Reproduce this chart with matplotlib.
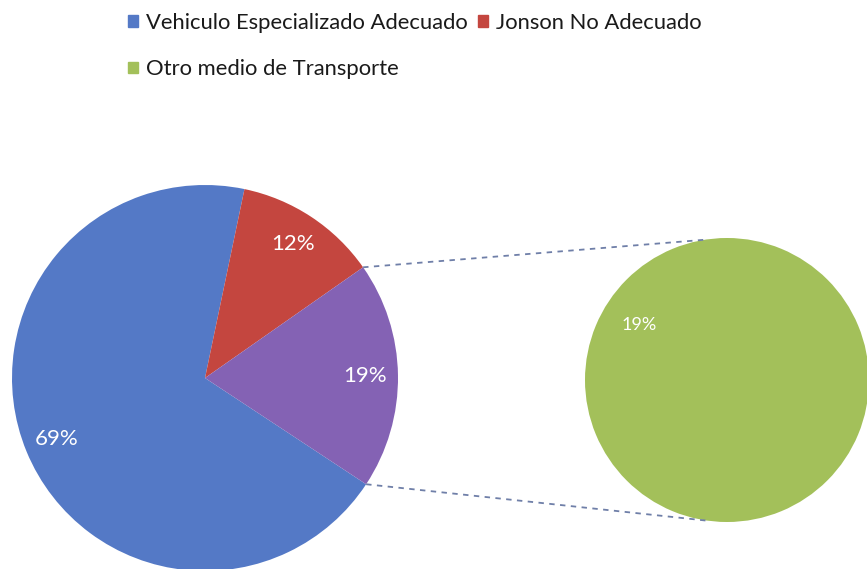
import matplotlib.pyplot as plt
import matplotlib.patches as mpatches
import numpy as np

plt.rcParams['font.family'] = ['Lato', 'DejaVu Sans']

# main pie: two categories plus the "other" wedge that is broken out
main_labels = ["Vehiculo Especializado Adecuado", "Jonson No Adecuado", "Otro"]
main_values = [69, 12, 19]
main_colors = ["#5479C6", "#C4463F", "#8462B4"]

# secondary pie
sub_labels = ["Otro medio de Transporte"]
sub_values = [19]
sub_colors = ["#A3C05A"]

fig = plt.figure(figsize=(8.67, 5.69), dpi=100)
ax = fig.add_axes([0, 0, 1, 1])

c1, r1 = (205, 191), 193
c2, r2 = (727, 189), 142

# blue wedge starts 123.4 deg clockwise from top
start = 90 - 123.4
w1, _, t1 = ax.pie(main_values, colors=main_colors, center=c1, radius=r1,
                   startangle=start, counterclock=False, frame=True,
                   autopct='%d%%', pctdistance=0.83,
                   wedgeprops=dict(linewidth=0),
                   textprops=dict(color='white', fontsize=16))
w2, _, t2 = ax.pie(sub_values, colors=sub_colors, center=c2, radius=r2,
                   startangle=-32.3, frame=True,
                   autopct=lambda p: '%d%%' % sub_values[0], pctdistance=0.73,
                   wedgeprops=dict(linewidth=0),
                   textprops=dict(color='white', fontsize=13))
ax.set_xlim(0, 867)
ax.set_ylim(0, 569)
ax.set_aspect('equal')
ax.axis('off')

# connector lines between pies
def pt(c, r, deg):
    a = np.radians(deg)
    return c[0] + r * np.sin(a), c[1] + r * np.cos(a)

for a1, a2 in [(55, -9), (123.4, 187)]:
    p1 = pt(c1, r1, a1)
    p2 = pt(c2, r2, a2)
    ax.plot([p1[0], p2[0]], [p1[1], p2[1]], ls=(0, (3, 3)), color='#6F7FA8', lw=1.3)

handles = [mpatches.Patch(color=main_colors[0], label=main_labels[0]),
           mpatches.Patch(color=sub_colors[0], label=sub_labels[0]),
           mpatches.Patch(color=main_colors[1], label=main_labels[1])]
fig.legend(handles=handles, ncol=2, loc='upper left', bbox_to_anchor=(0.125, 1.012),
           frameon=False, fontsize=15.8, handlelength=0.45, handleheight=0.45,
           handletextpad=0.35, columnspacing=0.5, labelspacing=1.2,
           labelcolor='#1A1A1A')

fig.savefig('out.png', dpi=100)
